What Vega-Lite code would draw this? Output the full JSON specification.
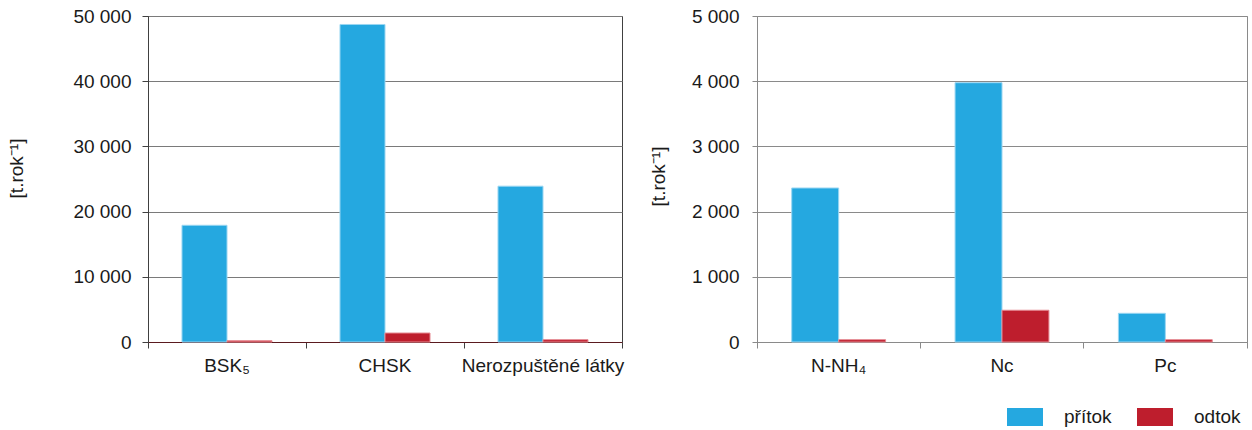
{
  "$schema": "https://vega.github.io/schema/vega-lite/v6.json",
  "background": "white",
  "padding": {"left": 6, "top": 6, "right": 5, "bottom": 2},
  "datasets": {
    "levy": [
      {"kategorie": "BSK₅", "ukazatel": "přítok", "hodnota": 17900},
      {"kategorie": "BSK₅", "ukazatel": "odtok", "hodnota": 200},
      {"kategorie": "CHSK", "ukazatel": "přítok", "hodnota": 48700},
      {"kategorie": "CHSK", "ukazatel": "odtok", "hodnota": 1380},
      {"kategorie": "Nerozpuštěné látky", "ukazatel": "přítok", "hodnota": 23900},
      {"kategorie": "Nerozpuštěné látky", "ukazatel": "odtok", "hodnota": 360}
    ],
    "pravy": [
      {"kategorie": "N-NH₄", "ukazatel": "přítok", "hodnota": 2362},
      {"kategorie": "N-NH₄", "ukazatel": "odtok", "hodnota": 36},
      {"kategorie": "Nc", "ukazatel": "přítok", "hodnota": 3977},
      {"kategorie": "Nc", "ukazatel": "odtok", "hodnota": 487},
      {"kategorie": "Pc", "ukazatel": "přítok", "hodnota": 440},
      {"kategorie": "Pc", "ukazatel": "odtok", "hodnota": 36}
    ]
  },
  "config": {
    "font": "Liberation Sans",
    "axis": {
      "labelFont": "Liberation Sans",
      "labelFontSize": 19,
      "labelColor": "#1a1a1a",
      "titleFont": "Liberation Sans",
      "titleFontSize": 19,
      "titleFontWeight": "normal",
      "titleColor": "#1a1a1a"
    },
    "legend": {
      "labelFont": "Liberation Sans",
      "labelFontSize": 19,
      "labelColor": "#1a1a1a"
    }
  },
  "spacing": 135,
  "bounds": "flush",
  "resolve": {"scale": {"y": "independent", "x": "independent", "xOffset": "independent", "color": "shared"}},
  "hconcat": [
    {
      "width": 474,
      "height": 326,
      "data": {"name": "levy"},
      "view": {"stroke": "#404040", "strokeWidth": 1},
      "mark": {"type": "bar", "strokeWidth": 1},
      "encoding": {
        "x": {
          "field": "kategorie", "type": "nominal", "sort": null,
          "scale": {"paddingInner": 0, "paddingOuter": 0},
          "axis": {
            "title": null, "labelAngle": 0, "bandPosition": 1, "tickExtra": true,
            "tickSize": 6, "tickColor": "#404040", "domainColor": "#5a1a1f",
            "labelPadding": 8, "grid": false
          }
        },
        "xOffset": {
          "field": "ukazatel", "sort": ["přítok", "odtok"],
          "scale": {"paddingOuter": 0.755, "paddingInner": 0}
        },
        "y": {
          "field": "hodnota", "type": "quantitative",
          "scale": {"domain": [0, 50000], "nice": false},
          "axis": {
            "title": "[t.rok⁻¹]",
            "values": [0, 10000, 20000, 30000, 40000, 50000],
            "labelExpr": "replace(format(datum.value, ','), ',', ' ')",
            "grid": true, "gridColor": "#7a7a7a",
            "domainColor": "#404040", "tickColor": "#404040", "tickSize": 6,
            "labelPadding": 11, "titleX": -122, "titleY": 152
          }
        },
        "color": {
          "field": "ukazatel", "type": "nominal",
          "scale": {"domain": ["přítok", "odtok"], "range": ["#25A8E0", "#BE1E2D"]},
          "legend": {
            "title": null, "orient": "none", "direction": "horizontal",
            "legendX": 859, "legendY": 383, "padding": 0,
            "symbolType": "M-1,-0.5H1V0.5H-1Z", "symbolSize": 1296,
            "symbolStrokeWidth": 0, "labelOffset": 21, "columnPadding": 25
          }
        },
        "stroke": {
          "field": "ukazatel", "type": "nominal",
          "scale": {"domain": ["přítok", "odtok"], "range": ["#9AD6F2", "#E58A92"]},
          "legend": null
        }
      }
    },
    {
      "width": 490,
      "height": 326,
      "data": {"name": "pravy"},
      "view": {"stroke": "#8a8a8a", "strokeWidth": 1},
      "mark": {"type": "bar", "strokeWidth": 1},
      "encoding": {
        "x": {
          "field": "kategorie", "type": "nominal", "sort": null,
          "scale": {"paddingInner": 0, "paddingOuter": 0},
          "axis": {
            "title": null, "labelAngle": 0, "bandPosition": 1, "tickExtra": true,
            "tickSize": 6, "tickColor": "#8a8a8a", "domainColor": "#8a8a8a",
            "labelPadding": 8, "grid": false
          }
        },
        "xOffset": {
          "field": "ukazatel", "sort": ["přítok", "odtok"],
          "scale": {"paddingOuter": 0.74, "paddingInner": 0}
        },
        "y": {
          "field": "hodnota", "type": "quantitative",
          "scale": {"domain": [0, 5000], "nice": false},
          "axis": {
            "title": "[t.rok⁻¹]",
            "values": [0, 1000, 2000, 3000, 4000, 5000],
            "labelExpr": "replace(format(datum.value, ','), ',', ' ')",
            "grid": true, "gridColor": "#8a8a8a",
            "domainColor": "#8a8a8a", "tickColor": "#8a8a8a", "tickSize": 5,
            "labelPadding": 13, "titleX": -89, "titleY": 160
          }
        },
        "color": {
          "field": "ukazatel", "type": "nominal",
          "scale": {"domain": ["přítok", "odtok"], "range": ["#25A8E0", "#BE1E2D"]}
        },
        "stroke": {
          "field": "ukazatel", "type": "nominal",
          "scale": {"domain": ["přítok", "odtok"], "range": ["#9AD6F2", "#E58A92"]},
          "legend": null
        }
      }
    }
  ]
}
